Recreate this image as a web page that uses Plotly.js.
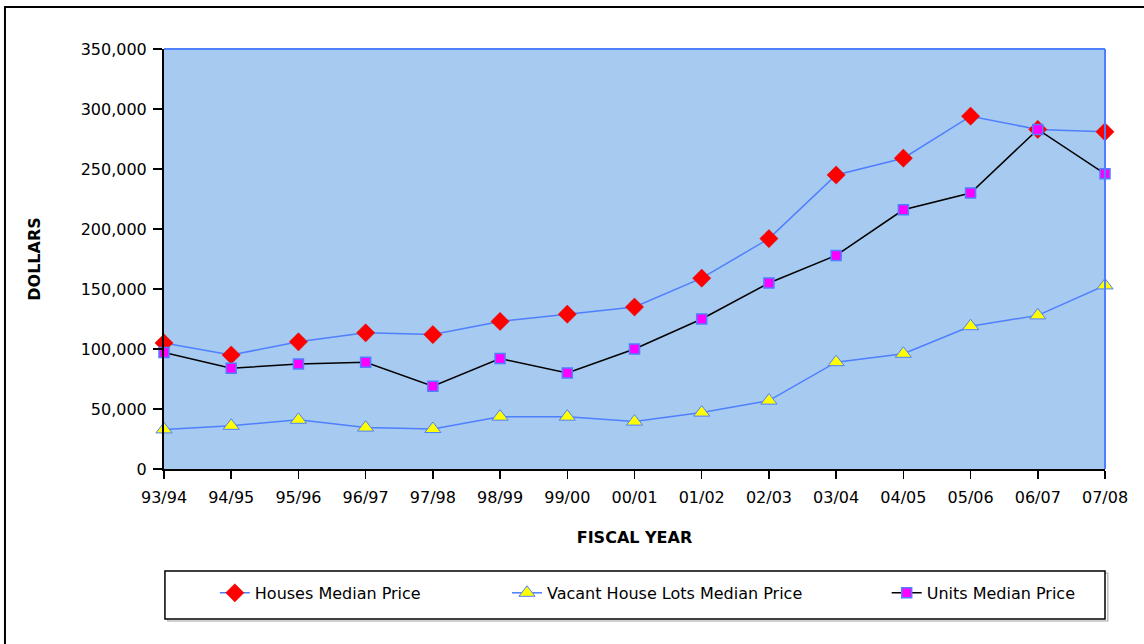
<!DOCTYPE html>
<html>
<head>
<meta charset="utf-8">
<script src="https://cdn.plot.ly/plotly-3.0.1.min.js"></script>
<style>html,body{margin:0;padding:0;background:#fff;}#chart{width:1144px;height:644px;}</style>
</head>
<body>
<div id="chart"></div>
<script>
const years = ["93/94","94/95","95/96","96/97","97/98","98/99","99/00","00/01","01/02","02/03","03/04","04/05","05/06","06/07","07/08"];
const housesMedian = [105000, 95000, 106000, 113500, 112000, 123000, 129000, 135000, 159000, 192000, 245000, 259000, 294000, 283000, 281000];
const vacantLotsMedian = [33000, 36000, 41000, 34500, 33300, 43600, 43600, 39500, 47000, 57000, 89000, 96000, 119000, 128000, 153000];
const unitsMedian = [97000, 84000, 87500, 89000, 69000, 92000, 80000, 100000, 125000, 155000, 178000, 216000, 230000, 283000, 246000];

const BLUE = "#4f7fff";
const FONT = "DejaVu Sans, Verdana, sans-serif";

const traces = [
  {x: years, y: housesMedian, name: "Houses Median Price", type: "scatter", mode: "lines+markers",
   line: {color: BLUE, width: 1.5}, marker: {symbol: "diamond", size: 14, color: "#ff0000", line: {color: "#e00000", width: 0.5}},
   cliponaxis: false, legend: "legend"},
  {x: years, y: vacantLotsMedian, name: "Vacant House Lots Median Price", type: "scatter", mode: "lines+markers",
   line: {color: BLUE, width: 1.5}, marker: {symbol: "triangle-up", size: 14, color: "#ffff00", line: {color: BLUE, width: 1}},
   cliponaxis: false, legend: "legend2"},
  {x: years, y: unitsMedian, name: "Units Median Price", type: "scatter", mode: "lines+markers",
   line: {color: "#000000", width: 1.5}, marker: {symbol: "square", size: 10, color: "#ff00ff", line: {color: BLUE, width: 1.5}},
   cliponaxis: false, legend: "legend3"}
];

const legendBase = {orientation: "h", yanchor: "middle", xanchor: "left", y: -0.295,
  bgcolor: "rgba(0,0,0,0)", borderwidth: 0, font: {family: FONT, size: 16, color: "#000"}};

const layout = {
  width: 1144, height: 644,
  margin: {l: 164, r: 39, t: 49, b: 175},
  paper_bgcolor: "#ffffff",
  plot_bgcolor: "#a6caf0",
  font: {family: FONT, size: 16, color: "#000"},
  showlegend: true,
  legend: Object.assign({}, legendBase, {x: 0.054}),
  legend2: Object.assign({}, legendBase, {x: 0.3645}),
  legend3: Object.assign({}, legendBase, {x: 0.768}),
  xaxis: {
    type: "category", range: [0, 14], showgrid: false, zeroline: false,
    showline: true, linecolor: "#000", linewidth: 2,
    ticks: "outside", ticklen: 8, tickcolor: "#000", tickwidth: 1.5, ticklabelstandoff: 5,
    tickfont: {family: FONT, size: 16, color: "#000"},
    title: {text: "FISCAL YEAR", font: {family: FONT, size: 16, color: "#000", weight: "bold"}, standoff: 26}
  },
  yaxis: {
    range: [0, 350000], dtick: 50000, tickformat: ",d", showgrid: false, zeroline: false,
    showline: true, linecolor: "#000", linewidth: 2,
    ticks: "outside", ticklen: 9, tickcolor: "#000", tickwidth: 1.5, ticklabelstandoff: 3,
    tickfont: {family: FONT, size: 16, color: "#000"},
    title: {text: "DOLLARS", font: {family: FONT, size: 16, color: "#000", weight: "bold"}, standoff: 36}
  },
  shapes: [
    {type: "line", xref: "paper", yref: "paper", x0: 0, x1: 1, y0: 1, y1: 1, line: {color: BLUE, width: 2}},
    {type: "line", xref: "paper", yref: "paper", x0: 1, x1: 1, y0: 0, y1: 1, line: {color: BLUE, width: 2}},
    {type: "rect", xref: "paper", yref: "paper", x0: 0.004, x1: 1.003, y0: -0.362, y1: -0.248, line: {color: "#c0c0c0", width: 1.5}, layer: "below"},
    {type: "rect", xref: "paper", yref: "paper", x0: 0.001, x1: 1.0, y0: -0.357, y1: -0.243, fillcolor: "#ffffff", line: {color: "#000", width: 1.5}, layer: "below"},
    {type: "rect", xref: "paper", yref: "paper", x0: -0.169, x1: 1.08, y0: -0.5, y1: 1.1, line: {color: "#000", width: 2}, layer: "below"}
  ]
};

Plotly.newPlot("chart", traces, layout, {displayModeBar: false, staticPlot: true});
</script>
</body>
</html>
